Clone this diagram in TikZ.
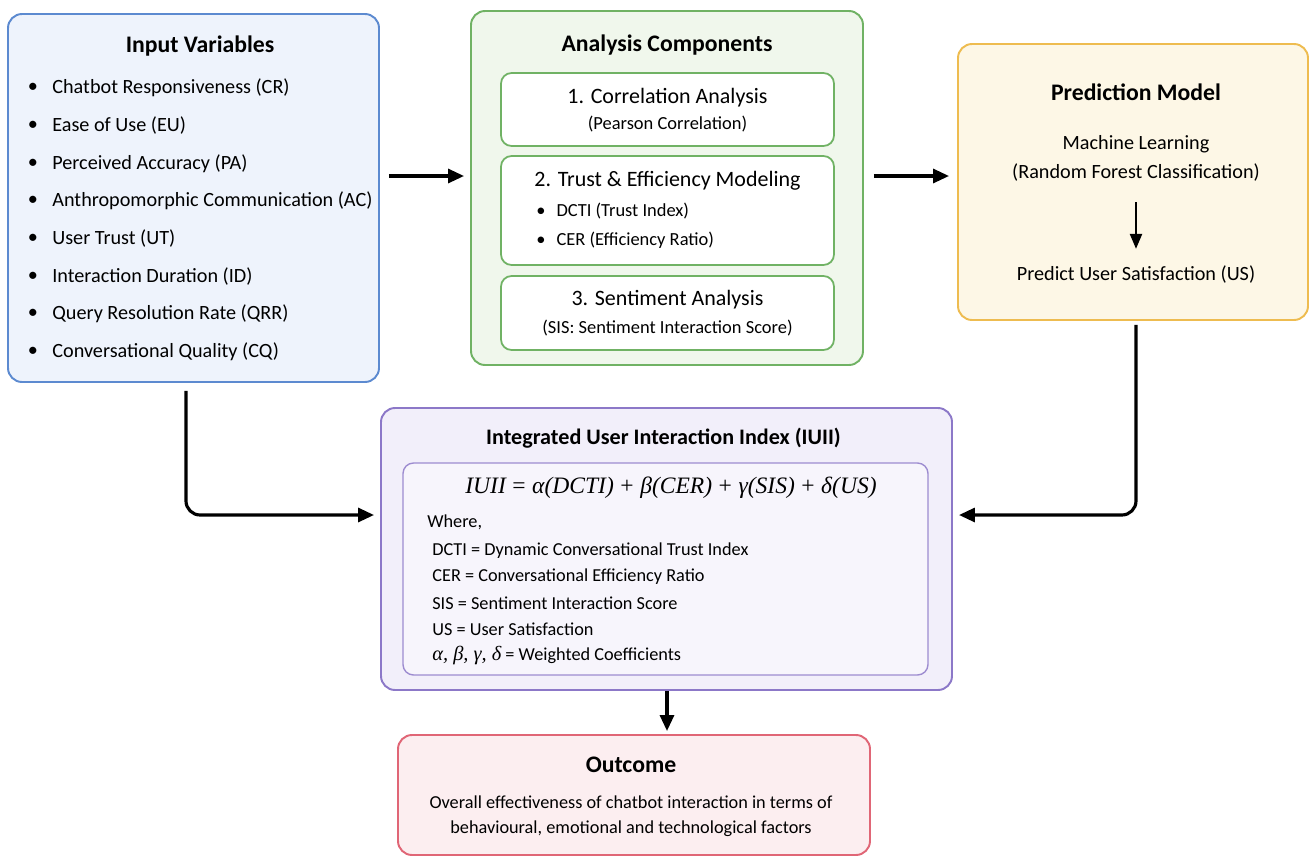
\documentclass[tikz,border=0pt]{standalone}
\usepackage{fontspec}
\setmainfont{Carlito}
\newfontfamily\formulafont{Liberation Serif}
\usepackage{tikz}
\usepackage{xcolor}
\usetikzlibrary{arrows.meta,positioning}
\definecolor{inblue}{RGB}{92,138,208}
\definecolor{inlight}{RGB}{238,243,252}
\definecolor{angreen}{RGB}{112,178,100}
\definecolor{anlight}{RGB}{240,247,236}
\definecolor{prorange}{RGB}{238,188,80}
\definecolor{prlight}{RGB}{253,247,230}
\definecolor{iupurple}{RGB}{140,120,200}
\definecolor{iulight}{RGB}{242,239,250}
\definecolor{iuinner}{RGB}{247,245,252}
\definecolor{outred}{RGB}{224,102,118}
\definecolor{outlight}{RGB}{252,238,240}
\newcommand{\up}[1]{\;\textup{#1}\;}

\begin{document}
\begin{tikzpicture}[
    box/.style={rectangle,rounded corners=8pt,line width=1.1pt,inner sep=0pt},
    subbox/.style={rectangle,rounded corners=6pt,line width=1pt,draw=angreen,fill=white,
      minimum width=6.66cm,inner sep=0pt},
    title/.style={font=\bfseries\fontsize{13.5}{16}\selectfont},
    txt/.style={font=\fontsize{11.5}{14}\selectfont,inner sep=0pt},
    item/.style={txt,anchor=west},
    arrow/.style={-{Triangle[length=3.2mm,width=2.8mm]},line width=1.8pt,rounded corners=8pt}
  ]
    \useasboundingbox (0,0) rectangle (26.2,-17.14);
    % main boxes
    \node[box,draw=inblue,fill=inlight,minimum width=7.42cm,minimum height=7.36cm] (inp) at (3.87,-3.96) {};
    \node[box,draw=angreen,fill=anlight,minimum width=7.84cm,minimum height=7.08cm] (ana) at (13.34,-3.76) {};
    \node[box,draw=prorange,fill=prlight,minimum width=7.0cm,minimum height=5.52cm] (pred) at (22.66,-3.64) {};
    \node[box,draw=iupurple,fill=iulight,minimum width=11.42cm,minimum height=5.64cm] (iuii) at (13.33,-10.98) {};
    \node[box,draw=outred,fill=outlight,minimum width=9.44cm,minimum height=2.4cm] (out) at (12.68,-15.9) {};

    % input variables
    \node[title] (inptitle) at (4.0,-0.92) {Input Variables};
    \foreach \t [count=\i] in {Chatbot Responsiveness (CR),Ease of Use (EU),Perceived Accuracy (PA),
        Anthropomorphic Communication (AC),User Trust (UT),Interaction Duration (ID),
        Query Resolution Rate (QRR),Conversational Quality (CQ)}{
      \node[item] (inp\i) at (1.04,-1.76-0.754*\i+0.754) {\t};
      \node[txt] at (0.66,-1.76-0.754*\i+0.754) {\textbullet};
    }

    % analysis components
    \node[title] (anatitle) at (13.34,-0.90) {Analysis Components};
    \node[subbox,minimum height=1.46cm] (corr) at (13.35,-2.19) {};
    \node[subbox,minimum height=2.18cm] (trust) at (13.35,-4.21) {};
    \node[subbox,minimum height=1.48cm] (sent) at (13.35,-6.26) {};
    \node[txt,font=\fontsize{12.5}{15}\selectfont] at (13.35,-1.96) {1. Correlation Analysis};
    \node[txt,font=\fontsize{10.5}{13}\selectfont] at (13.35,-2.48) {(Pearson Correlation)};
    \node[txt,font=\fontsize{12.5}{15}\selectfont] at (13.35,-3.62) {2. Trust \& Efficiency Modeling};
    \node[item,font=\fontsize{10.5}{13}\selectfont] at (10.72,-4.22) {\textbullet\hspace{2.2mm}DCTI (Trust Index)};
    \node[item,font=\fontsize{10.5}{13}\selectfont] at (10.72,-4.80) {\textbullet\hspace{2.2mm}CER (Efficiency Ratio)};
    \node[txt,font=\fontsize{12.5}{15}\selectfont] at (13.35,-6.0) {3. Sentiment Analysis};
    \node[txt,font=\fontsize{10.5}{13}\selectfont] at (13.35,-6.56) {(SIS: Sentiment Interaction Score)};

    % prediction model
    \node[title] (predtitle) at (22.72,-1.84) {Prediction Model};
    \node[txt] (ml) at (22.72,-2.88) {Machine Learning};
    \node[txt] (rf) at (22.72,-3.46) {(Random Forest Classification)};
    \node[txt] (us) at (22.72,-5.50) {Predict User Satisfaction (US)};
    \draw[-{Triangle[length=3mm,width=2.4mm]},line width=1.3pt] (rf.south) ++(0,-0.4) -- ([yshift=0.34cm]us.north);

    % integrated index
    \node[title,font=\bfseries\fontsize{12.6}{15}\selectfont] (iutitle) at (13.27,-8.76) {Integrated User Interaction Index (IUII)};
    \node[box,rounded corners=6pt,line width=0.8pt,draw=iupurple!85,fill=iuinner,
      minimum width=10.5cm,minimum height=4.24cm] (iubox) at (13.31,-11.38) {};
    \node[txt,font=\formulafont\itshape\fontsize{13.4}{15}\selectfont] (formula) at (13.42,-9.76)
      {IUII\up{=}α(DCTI)\up{+}β(CER)\up{+}γ(SIS)\up{+}δ(US)};
    \node[item,font=\fontsize{10.4}{12}\selectfont] (where) at (8.54,-10.44) {Where,};
    \foreach \t [count=\i] in {DCTI = Dynamic Conversational Trust Index,CER = Conversational Efficiency Ratio,
        SIS = Sentiment Interaction Score,US = User Satisfaction,
        {{\formulafont\itshape\fontsize{11.6}{12}\selectfont α, β, γ, δ} = Weighted Coefficients}}{
      \node[item,font=\fontsize{10.4}{12}\selectfont] (def\i) at (8.64,-11.02-0.52*\i+0.52) {\t};
    }

    % outcome
    \node[title,font=\bfseries\fontsize{13.5}{16}\selectfont] (outtitle) at (12.62,-15.30) {Outcome};
    \node[txt,font=\fontsize{10.4}{13}\selectfont] at (12.62,-16.04) {Overall effectiveness of chatbot interaction in terms of};
    \node[txt,font=\fontsize{10.4}{13}\selectfont] at (12.62,-16.58) {behavioural, emotional and technological factors};

    % connectors
    \draw[arrow,shorten <=0.18cm,shorten >=0.12cm] (inp.east |- 0,-3.52) -- (ana.west |- 0,-3.52);
    \draw[arrow,shorten <=0.2cm,shorten >=0.16cm] (ana.east |- 0,-3.52) -- (pred.west |- 0,-3.52);
    \draw[arrow,shorten <=0.16cm,shorten >=0.12cm] (inp.south -| 3.72,0) |- (iuii.west |- 0,-10.30);
    \draw[arrow,shorten <=0.08cm,shorten >=0.12cm] (pred.south -| 22.72,0) |- (iuii.east |- 0,-10.30);
    \draw[arrow,shorten >=0.06cm] (iuii.south -| 13.34,0) -- (out.north -| 13.34,0);
\end{tikzpicture}
\end{document}
